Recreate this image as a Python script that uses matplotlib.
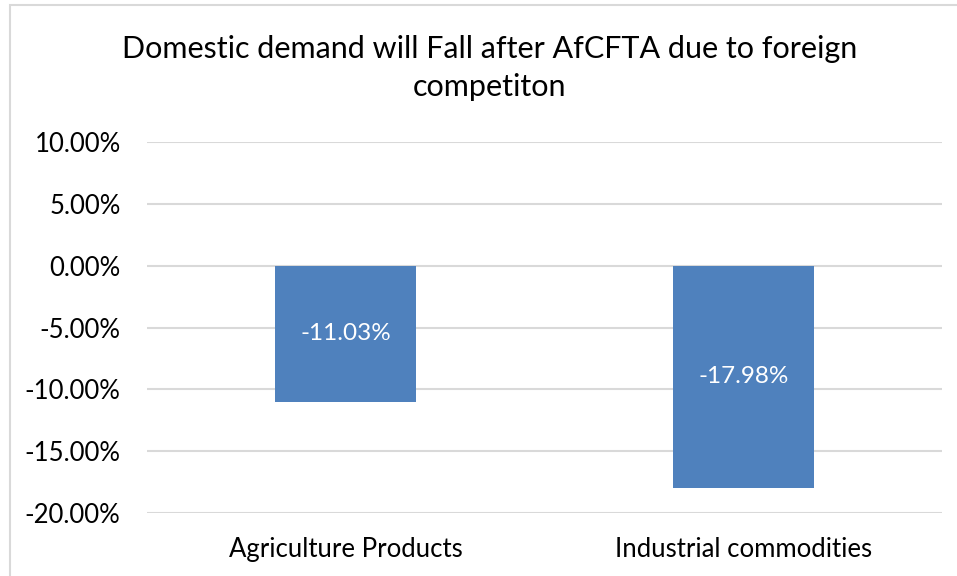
import matplotlib.pyplot as plt
from matplotlib.patches import Rectangle
from matplotlib.ticker import FuncFormatter

categories = ['Agriculture Products', 'Industrial commodities']
values = [-11.03, -17.98]
yticks = [10, 5, 0, -5, -10, -15, -20]

plt.rcParams['font.family'] = ['Lato', 'DejaVu Sans']

W, H = 957, 576
fig = plt.figure(figsize=(W / 100, H / 100), dpi=100)

# chart frame, only its top and left edges fall inside the image
fig.patches.append(Rectangle((10 / W, -0.1), 1.2, 1 - 5 / H + 0.1,
                             transform=fig.transFigure, fill=False,
                             edgecolor='#D9D9D9', linewidth=1.5))

ax = fig.add_axes([147 / W, 1 - 513 / H, (942 - 147) / W, (513 - 142) / H])
bars = ax.bar(range(len(categories)), values, width=0.355, color='#4F81BD', zorder=3)
for b, v in zip(bars, values):
    ax.text(b.get_x() + b.get_width() / 2, v / 2, f'{v:.2f}%',
            ha='center', va='center', color='white', fontsize=17.5, zorder=4)

ax.set_ylim(-20, 10)
ax.set_xlim(-0.5, len(categories) - 0.5)
ax.set_yticks(yticks)
ax.yaxis.set_major_formatter(FuncFormatter(lambda y, _: f'{y:.2f}%'))
ax.set_xticks(range(len(categories)))
ax.set_xticklabels(categories)
ax.tick_params(axis='y', length=0, pad=19, labelsize=18.5)
ax.tick_params(axis='x', length=0, pad=17, labelsize=18.5)
ax.grid(axis='y', color='#D9D9D9', linewidth=1.5, zorder=0)
for s in ax.spines.values():
    s.set_visible(False)

fig.text(490 / W, 1 - 68 / H,
         'Domestic demand will Fall after AfCFTA due to foreign\ncompetiton',
         ha='center', va='center', fontsize=22, linespacing=1.42)

fig.savefig('out.png', dpi=100)
